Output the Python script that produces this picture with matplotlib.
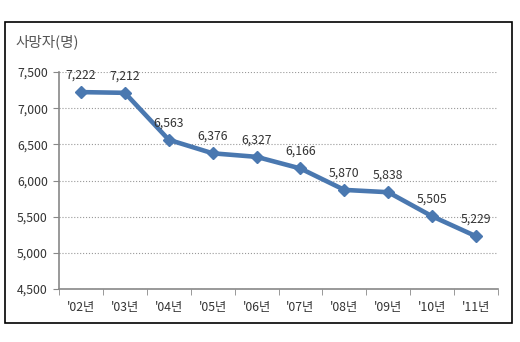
import matplotlib

matplotlib.use("Agg")
import matplotlib.pyplot as plt
from matplotlib.patches import Rectangle

plt.rcParams["font.family"] = ["Noto Sans CJK KR", "DejaVu Sans"]

years = ["'02년", "'03년", "'04년", "'05년", "'06년", "'07년", "'08년", "'09년", "'10년", "'11년"]
deaths = [7222, 7212, 6563, 6376, 6327, 6166, 5870, 5838, 5505, 5229]
y_ticks = [4500, 5000, 5500, 6000, 6500, 7000, 7500]

LINE = "#4a78b0"
TEXT = "#333333"

fig = plt.figure(figsize=(5.2, 3.42), dpi=100)
fig.patches.append(Rectangle((5 / 520, 1 - 323 / 342), 507 / 520, 301 / 342,
                             transform=fig.transFigure, fill=False,
                             ec="black", lw=1.2))
ax = fig.add_axes([59 / 520, 1 - 289 / 342, 439 / 520, 217 / 342])

x = list(range(len(years)))
ax.plot(x, deaths, "-D", color=LINE, lw=3.3, ms=6.5, mec=LINE, mfc=LINE)
for xi, v in zip(x, deaths):
  ax.annotate(f"{v:,}", (xi, v), xytext=(0, 7.5), textcoords="offset points",
              ha="center", va="bottom", fontsize=8.8, color=TEXT)

ax.set_xlim(-0.5, len(years) - 0.5)
ax.set_ylim(4500, 7500)
ax.set_yticks(y_ticks)
ax.set_yticklabels([f"{t:,}" for t in y_ticks], fontsize=8.8, color=TEXT)
ax.set_xticks(x)
ax.set_xticklabels(years, fontsize=8.8, color=TEXT)
ax.set_xticks([i - 0.5 for i in range(len(years) + 1)], minor=True)
ax.tick_params(axis="x", which="major", length=0, pad=9)
ax.tick_params(axis="x", which="minor", length=4, color="#888888", direction="out")
ax.tick_params(axis="y", length=4, color="#888888", direction="out", pad=4)
ax.yaxis.grid(True, linestyle=":", color="#999999", lw=0.8)
ax.set_axisbelow(True)
for side in ("top", "right"):
  ax.spines[side].set_visible(False)
for side in ("left", "bottom"):
  ax.spines[side].set_color("#888888")
  ax.spines[side].set_linewidth(1.2)

fig.text(15 / 520, 1 - 42 / 342, "사망자(명)", fontsize=10.5, color="#555555",
         ha="left", va="center")

fig.savefig("out.png", dpi=100)
